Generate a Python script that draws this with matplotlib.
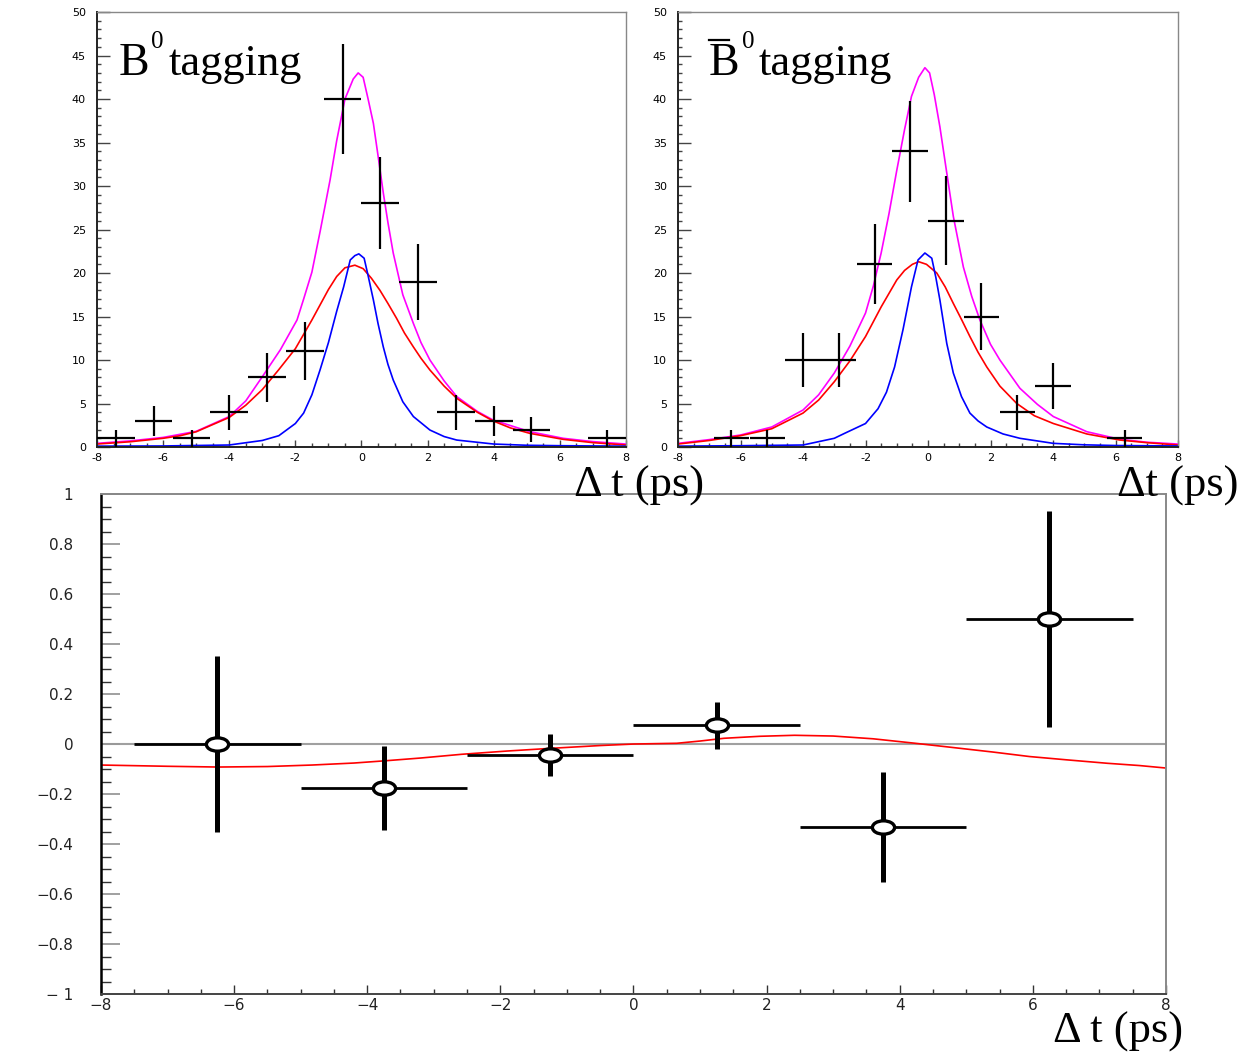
import numpy as np
import matplotlib
matplotlib.use('Agg')
import matplotlib.pyplot as plt
from matplotlib.path import Path
from matplotlib.lines import Line2D
from matplotlib.ticker import MultipleLocator
from matplotlib.transforms import offset_copy

plt.rcParams['font.family'] = ['DejaVu Sans']

# ---- top left: B0 tagging ----
b0_x = [-7.43, -6.29, -5.14, -4.0, -2.86, -1.71, -0.57, 0.57, 1.71, 2.86, 4.0, 5.14, 7.43]
b0_y = [1, 3, 1, 4, 8, 11, 40, 28, 19, 4, 3, 2, 1]
b0_err = [1.0, 1.73, 1.0, 2.0, 2.83, 3.32, 6.32, 5.29, 4.36, 2.0, 1.73, 1.41, 1.0]

b0_tot_x = [-8, -7, -6, -5, -4, -3.5, -2.96, -2.45, -1.95, -1.75, -1.5, -1.25, -0.95, -0.75,
            -0.5, -0.25, -0.1, 0.05, 0.2, 0.36, 0.5, 0.66, 0.8, 0.96, 1.25, 1.57, 1.8, 2.07,
            2.5, 2.88, 3.5, 3.98, 5.09, 6.1, 7.0, 8.0]
b0_tot_y = [0.42, 0.7, 1.1, 1.8, 3.5, 5.3, 8.3, 11.2, 14.6, 17.0, 20.1, 24.8, 30.7, 35.2,
            40.0, 42.3, 43.0, 42.5, 40.0, 37.2, 33.5, 29.2, 25.8, 22.3, 17.5, 14.2, 12.0, 10.0,
            7.6, 5.8, 4.1, 3.1, 1.76, 1.0, 0.62, 0.34]
b0_red_x = [-8, -7, -6, -5.48, -5, -4, -3.5, -3, -2.5, -2, -1.5, -1, -0.75, -0.5, -0.2, 0.05,
            0.3, 0.56, 0.8, 1.06, 1.3, 1.57, 1.8, 2.07, 2.5, 2.88, 3.5, 3.98, 4.5, 5.09, 6.1,
            7.0, 8.0]
b0_red_y = [0.34, 0.6, 1.0, 1.3, 1.75, 3.4, 4.8, 6.6, 8.9, 11.3, 14.6, 18.1, 19.6, 20.6, 20.9,
            20.5, 19.4, 18.0, 16.5, 14.8, 13.1, 11.5, 10.2, 8.85, 7.0, 5.6, 4.0, 3.0, 2.2, 1.57,
            0.88, 0.5, 0.23]
b0_blue_x = [-8, -6, -4, -3, -2.5, -2, -1.75, -1.5, -1.25, -1, -0.75, -0.54, -0.34, -0.2, -0.08,
             0.08, 0.2, 0.36, 0.5, 0.66, 0.8, 0.96, 1.25, 1.57, 2.07, 2.5, 2.88, 4, 5, 6, 8]
b0_blue_y = [0.1, 0.12, 0.23, 0.75, 1.3, 2.7, 3.9, 6.0, 8.9, 12.0, 15.6, 18.4, 21.5, 22.0, 22.2,
             21.7, 19.7, 16.9, 14.2, 11.5, 9.5, 7.7, 5.2, 3.5, 1.95, 1.2, 0.8, 0.34, 0.2, 0.15, 0.1]

# ---- top right: B0bar tagging ----
bb_x = [-6.29, -5.14, -4.0, -2.86, -1.71, -0.57, 0.57, 1.71, 2.86, 4.0, 6.29]
bb_y = [1, 1, 10, 10, 21, 34, 26, 15, 4, 7, 1]
bb_err = [1.0, 1.0, 3.16, 3.16, 4.58, 5.83, 5.1, 3.87, 2.0, 2.65, 1.0]

bb_tot_x = [-8, -7, -6, -5, -4, -3.5, -3, -2.5, -2, -1.75, -1.5, -1.25, -1, -0.75, -0.53, -0.3,
            -0.1, 0.05, 0.2, 0.38, 0.6, 0.81, 1.13, 1.4, 1.66, 2.0, 2.3, 2.94, 3.5, 4.01, 5.08,
            6.14, 7.0, 8.0]
bb_tot_y = [0.42, 0.85, 1.38, 2.3, 4.25, 6.0, 8.5, 11.6, 15.4, 18.5, 22.3, 26.8, 31.8, 36.5,
            40.3, 42.5, 43.6, 43.0, 40.5, 36.8, 31.5, 26.5, 20.7, 17.3, 14.6, 11.8, 10.0, 6.75,
            4.9, 3.5, 1.76, 0.88, 0.55, 0.34]
bb_red_x = [-8, -7, -6, -5, -4, -3.5, -3, -2.5, -2, -1.5, -1, -0.75, -0.5, -0.3, -0.05, 0.28,
            0.55, 0.81, 1.08, 1.34, 1.6, 1.88, 2.3, 2.84, 3.4, 4.01, 5.08, 6.14, 7.0, 8.0]
bb_red_y = [0.34, 0.75, 1.3, 2.1, 3.9, 5.4, 7.5, 9.9, 12.7, 16.1, 19.2, 20.3, 21.0, 21.3, 21.0,
            20.0, 18.4, 16.5, 14.6, 12.7, 10.9, 9.2, 7.0, 5.0, 3.6, 2.7, 1.5, 0.8, 0.5, 0.23]
bb_blue_x = [-8, -6, -4, -3, -2.67, -2, -1.6, -1.33, -1.07, -0.8, -0.53, -0.32, -0.1, 0.12, 0.25,
             0.38, 0.6, 0.81, 1.07, 1.34, 1.6, 1.88, 2.4, 2.94, 4.01, 5, 6, 8]
bb_blue_y = [0.1, 0.15, 0.23, 1.0, 1.57, 2.7, 4.4, 6.3, 9.2, 13.5, 18.4, 21.5, 22.3, 21.7, 19.5,
             16.9, 11.9, 8.5, 5.8, 3.9, 3.0, 2.3, 1.5, 1.0, 0.42, 0.25, 0.17, 0.12]

# ---- bottom: asymmetry ----
asym_x = [-6.25, -3.75, -1.25, 1.25, 3.75, 6.25]
asym_xerr = [1.25, 1.25, 1.25, 1.25, 1.25, 1.25]
asym_y = [0.0, -0.176, -0.044, 0.076, -0.332, 0.5]
asym_yerr = [0.352, 0.168, 0.084, 0.094, 0.22, 0.432]

fit_x = [-8, -7, -6.24, -5.5, -4.83, -4.2, -3.73, -3.2, -2.58, -1.9, -1.23, -0.5, 0, 0.65, 1.0,
         1.36, 1.9, 2.42, 3.0, 3.6, 4.2, 4.77, 5.4, 5.95, 6.5, 7.12, 7.6, 8.0]
fit_y = [-0.084, -0.089, -0.092, -0.09, -0.084, -0.076, -0.067, -0.056, -0.041, -0.028, -0.017,
         -0.006, 0.0, 0.003, 0.012, 0.023, 0.031, 0.035, 0.032, 0.021, 0.004, -0.013, -0.032,
         -0.05, -0.063, -0.077, -0.086, -0.096]

top_xticks = [-8, -6, -4, -2, 0, 2, 4, 6, 8]
top_xlabels = ['-8', '-6', '-4', '-2', '0', '2', '4', '6', '8']
top_yticks = [0, 5, 10, 15, 20, 25, 30, 35, 40, 45, 50]
bot_xlabels = ['\u22128', '\u22126', '\u22124', '\u22122', '0', '2', '4', '6', '8']
bot_yticks = [-1, -0.8, -0.6, -0.4, -0.2, 0, 0.2, 0.4, 0.6, 0.8, 1]
bot_ylabels = ['\u2212 1', '\u22120.8', '\u22120.6', '\u22120.4', '\u22120.2', '0',
               '0.2', '0.4', '0.6', '0.8', '1']

fig = plt.figure(figsize=(12.45, 10.55), dpi=100)
ax1 = fig.add_axes([0.0779, 0.5763, 0.4249, 0.4123])
ax2 = fig.add_axes([0.5446, 0.5763, 0.4016, 0.4123])
ax3 = fig.add_axes([0.0811, 0.0578, 0.8554, 0.4739])


def style_top(ax):
    ax.set_xlim(-8, 8)
    ax.set_ylim(0, 50)
    ax.set_xticks(top_xticks, top_xlabels)
    ax.set_yticks(top_yticks)
    ax.xaxis.set_minor_locator(MultipleLocator(0.5))
    ax.yaxis.set_minor_locator(MultipleLocator(1))
    ax.tick_params(axis='y', which='major', direction='in', length=9, width=1, color='#444',
                   labelsize=8, pad=8, right=False)
    ax.tick_params(axis='y', which='minor', direction='in', length=3, width=1, color='#444', right=False)
    ax.tick_params(axis='x', which='major', direction='in', length=5, width=1, color='#444',
                   labelsize=8, pad=4, top=False)
    ax.tick_params(axis='x', which='minor', direction='in', length=3, width=1, color='#444', top=False)
    for s in ['left', 'bottom']:
        ax.spines[s].set_color('#222')
        ax.spines[s].set_linewidth(1.4)
    for s in ['top', 'right']:
        ax.spines[s].set_color('#888')
        ax.spines[s].set_linewidth(1.0)


def tag_label(ax, x0, bar=False):
    # "B" + raised small "0" + "tagging", drawn as separate pieces
    base = ax.transAxes
    ax.text(x0, 0.855, 'B', transform=base, fontsize=33, family='Liberation Serif',
            va='baseline', ha='left')
    ax.text(x0, 0.855, '0', transform=offset_copy(base, fig=fig, x=23.5, y=19.5, units='points'),
            fontsize=18, family='Liberation Serif', va='baseline', ha='left')
    ax.text(x0, 0.855, 'tagging', transform=offset_copy(base, fig=fig, x=36, y=0, units='points'),
            fontsize=32, family='Liberation Serif', va='baseline', ha='left')
    if bar:
        tr = offset_copy(base, fig=fig, x=0, y=25.5, units='points')
        ax.add_artist(Line2D([x0, x0 + 0.04], [0.855, 0.855], color='black', lw=1.6,
                             transform=tr, clip_on=False))


for ax, cx, cy, ce, tx, ty, rx, ry, bx, by in [
        (ax1, b0_x, b0_y, b0_err, b0_tot_x, b0_tot_y, b0_red_x, b0_red_y, b0_blue_x, b0_blue_y),
        (ax2, bb_x, bb_y, bb_err, bb_tot_x, bb_tot_y, bb_red_x, bb_red_y, bb_blue_x, bb_blue_y)]:
    ax.plot(tx, ty, color='#ff00ff', lw=1.2)
    ax.plot(rx, ry, color='#ff0000', lw=1.2)
    ax.plot(bx, by, color='#0000ff', lw=1.2)
    ax.errorbar(cx, cy, yerr=ce, xerr=0.57, fmt='none', ecolor='black', elinewidth=1.6,
                capsize=0, zorder=5)
    style_top(ax)

tag_label(ax1, 0.04)
tag_label(ax2, 0.062, bar=True)

fig.text(0.461, 0.529, '\u0394 t (ps)', fontsize=32, family='Liberation Serif', va='baseline')
fig.text(0.897, 0.529, '\u0394t (ps)', fontsize=32, family='Liberation Serif', va='baseline')
fig.text(0.846, 0.012, '\u0394 t (ps)', fontsize=32, family='Liberation Serif', va='baseline')

# bottom panel
ax3.axhline(0, color='#a0a0a0', lw=1.5, zorder=1)
ax3.plot(fit_x, fit_y, color='#ff0000', lw=1.2, zorder=2)
ax3.errorbar(asym_x, asym_y, xerr=asym_xerr, fmt='none', ecolor='black', elinewidth=2,
             capsize=0, zorder=3)
ax3.errorbar(asym_x, asym_y, yerr=asym_yerr, fmt='none', ecolor='black', elinewidth=3.6,
             capsize=0, zorder=4)
circ = Path.unit_circle()
ellipse = Path(circ.vertices * np.array([1.0, 0.6]), circ.codes)
ax3.plot(asym_x, asym_y, ls='none', marker=ellipse, ms=16, mfc='white', mec='black',
         mew=2.4, zorder=5)

ax3.set_xlim(-8, 8)
ax3.set_ylim(-1, 1)
ax3.set_xticks(top_xticks, bot_xlabels)
ax3.set_yticks(bot_yticks, bot_ylabels)
ax3.xaxis.set_minor_locator(MultipleLocator(0.5))
ax3.yaxis.set_minor_locator(MultipleLocator(0.05))
ax3.tick_params(axis='y', which='major', direction='in', length=14, width=1.3, color='#999',
                labelsize=11, pad=20, right=False, labelcolor='#222')
ax3.tick_params(axis='y', which='minor', direction='in', length=7, width=1, color='#333', right=False)
ax3.tick_params(axis='x', which='major', direction='in', length=6.5, width=1, color='#333',
                labelsize=11, pad=3, top=False, labelcolor='#222')
ax3.tick_params(axis='x', which='minor', direction='in', length=3.5, width=1, color='#333', top=False)
ax3.spines['left'].set_color('black')
ax3.spines['left'].set_linewidth(1.8)
ax3.spines['bottom'].set_color('#444')
ax3.spines['bottom'].set_linewidth(1.4)
for s in ['top', 'right']:
    ax3.spines[s].set_color('#888')
    ax3.spines[s].set_linewidth(1.4)

fig.savefig('out.png', dpi=100)
